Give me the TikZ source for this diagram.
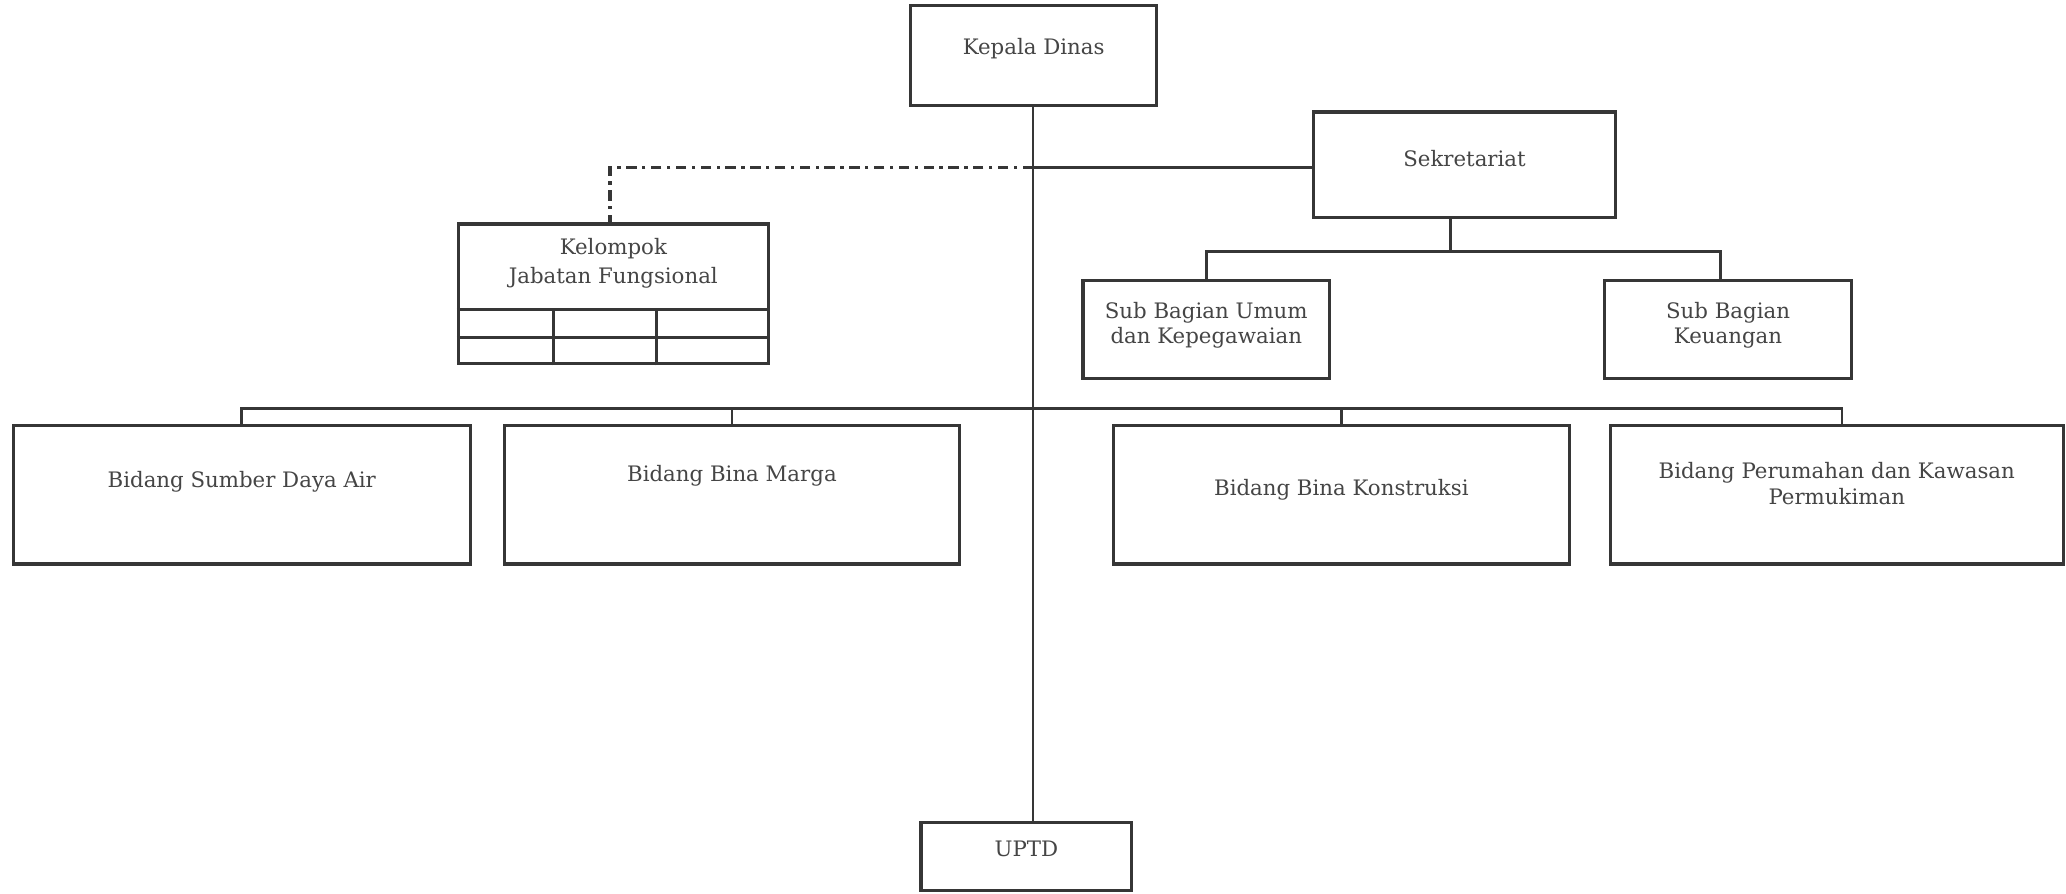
\documentclass[tikz,border=0pt]{standalone}
\usepackage{fontspec}
\setmainfont{DejaVu Serif}
\usetikzlibrary{calc}
\newlength\unitpx
\setlength\unitpx{0.02cm}
\definecolor{ink}{HTML}{363636}
\definecolor{txtc}{HTML}{454545}
\tikzset{
  box/.style={draw=ink, line width=1.4pt, inner sep=0pt, rectangle},
  lbl/.style={text=txtc, align=center, font=\fontsize{9.2}{11}\selectfont, inner sep=0pt},
  link/.style={draw=ink, line width=1.2pt},
  trunk/.style={draw=ink, line width=0.9pt},
  dotdash/.style={draw=ink, line width=1.4pt, dash pattern=on 4.5pt off 2.4pt on 1.4pt off 2.4pt}
}
\begin{document}
\begin{tikzpicture}[x=0.02cm, y=-0.02cm]
\useasboundingbox[fill=white] (0,0) rectangle (1568,678);
% boxes
\node[box, minimum width=187\unitpx, minimum height=76\unitpx] (kd) at (784.5,42) {};
\node[box, minimum width=229\unitpx, minimum height=80\unitpx] (sek) at (1111.5,125) {};
\node[box, minimum width=235\unitpx, minimum height=106\unitpx] (kel) at (465.5,223) {};
\node[box, minimum width=187\unitpx, minimum height=74\unitpx] (sbu) at (915.5,250) {};
\node[box, minimum width=187\unitpx, minimum height=74\unitpx] (sbk) at (1311.5,250) {};
\node[box, minimum width=347\unitpx, minimum height=105\unitpx] (sda) at (183.5,375.5) {};
\node[box, minimum width=345\unitpx, minimum height=105\unitpx] (bm) at (555.5,375.5) {};
\node[box, minimum width=346\unitpx, minimum height=105\unitpx] (bk) at (1018,375.5) {};
\node[box, minimum width=344\unitpx, minimum height=105\unitpx] (per) at (1394,375.5) {};
\node[box, minimum width=160\unitpx, minimum height=52\unitpx] (uptd) at (779,650) {};
% grid inside Kelompok box
\draw[box] (kel.west |- 0,235) -- (kel.east |- 0,235);
\draw[box] (kel.west |- 0,256) -- (kel.east |- 0,256);
\draw[box] (kel.south -| 420,0) -- (420,235);
\draw[box] (kel.south -| 498,0) -- (498,235);
% texts
\node[lbl] (tkd) at (784.5,37) {Kepala Dinas};
\node[lbl] (tsek) at (1111.5,120) {Sekretariat};
\node[lbl, font=\fontsize{9.2}{12.4}\selectfont] (tkel) at (465.5,200) {Kelompok\\Jabatan Fungsional};
\node[lbl] (tsbu) at (915.5,247) {Sub Bagian Umum\\dan Kepegawaian};
\node[lbl] (tsbk) at (1311.5,247) {Sub Bagian\\Keuangan};
\node[lbl] (tsda) at (183.5,366) {Bidang Sumber Daya Air};
\node[lbl] (tbm) at (555.5,361) {Bidang Bina Marga};
\node[lbl] (tbk) at (1018,372) {Bidang Bina Konstruksi};
\node[lbl] (tper) at (1394,367) {Bidang Perumahan dan Kawasan\\Permukiman};
\node[lbl] (tuptd) at (779,644) {UPTD};
% connectors
\coordinate (j1) at (784,127);
\coordinate (s1) at (1101,191);
\coordinate (b1) at (784,310);
\coordinate (kelc) at (463,170);
\coordinate (sbkc) at (1306,213);
\coordinate (perc) at (1398,323);
\draw[trunk] (kd.south -| j1) -- (j1 |- uptd.north);
\draw[link] (j1) -- (j1 -| sek.west);
\draw[dotdash] (j1) -| (kelc |- kel.north);
\draw[link] (sek.south -| s1) -- (s1);
\draw[link] (sbu.north) |- (s1) -| (sbkc |- sbk.north);
\draw[link] (sda.north) |- (b1) -| (perc |- per.north);
\draw[link] (bm.north) -- (bm.north |- b1);
\draw[link] (bk.north) -- (bk.north |- b1);
\end{tikzpicture}
\end{document}
